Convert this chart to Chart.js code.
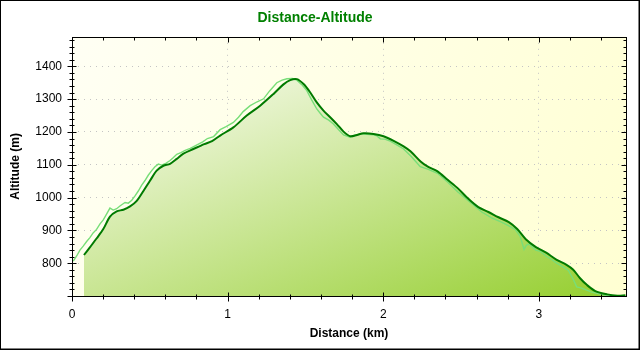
<!DOCTYPE html>
<html>
<head>
<meta charset="utf-8">
<script src="https://cdn.jsdelivr.net/npm/chart.js@4.4.1/dist/chart.umd.min.js"></script>
<style>
  html, body { margin: 0; padding: 0; background: #fff; }
  #wrap { width: 640px; height: 350px; }
</style>
</head>
<body>
<div id="wrap"><canvas id="profileChart" width="640" height="350"></canvas></div>
<script>
// smoothed track (dark line + fill)
const distKm = [
  0.077, 0.116, 0.159, 0.201, 0.244, 0.287, 0.330, 0.373, 0.416, 0.459,
  0.502, 0.544, 0.587, 0.630, 0.673, 0.716, 0.780, 0.850, 0.900, 0.952,
  1.037, 1.123, 1.209, 1.295, 1.359, 1.402, 1.445, 1.488, 1.530, 1.573,
  1.616, 1.659, 1.702, 1.745, 1.788, 1.831, 1.873, 1.938, 2.002, 2.067,
  2.131, 2.175, 2.240, 2.284, 2.349, 2.414, 2.480, 2.545, 2.611, 2.676,
  2.741, 2.807, 2.861, 2.916, 2.981, 3.047, 3.112, 3.178, 3.221, 3.265,
  3.308, 3.363, 3.439, 3.505, 3.556
];
const altitude = [
  825, 849, 876, 904, 942, 958, 963, 973, 990, 1020,
  1052, 1082, 1097, 1103, 1118, 1134, 1148, 1163, 1172, 1189,
  1214, 1250, 1280, 1316, 1345, 1358, 1361, 1346, 1321, 1290,
  1265, 1245, 1224, 1201, 1187, 1191, 1196, 1194, 1187, 1173,
  1156, 1141, 1110, 1095, 1080, 1054, 1028, 997, 971, 956,
  940, 925, 904, 873, 849, 832, 811, 795, 780, 754,
  734, 715, 705, 701, 702
];

// raw gps altitude (light line)
const rawDistKm = [
  0.008, 0.030, 0.051, 0.072, 0.094, 0.115, 0.137, 0.158, 0.180, 0.201,
  0.223, 0.244, 0.265, 0.287, 0.310, 0.341, 0.362, 0.384, 0.405, 0.426,
  0.448, 0.469, 0.490, 0.512, 0.533, 0.555, 0.576, 0.598, 0.630, 0.652,
  0.673, 0.700, 0.727, 0.760, 0.800, 0.840, 0.870, 0.910, 0.952, 0.990,
  1.037, 1.070, 1.100, 1.145, 1.190, 1.231, 1.270, 1.316, 1.350, 1.381,
  1.415, 1.445, 1.475, 1.509, 1.540, 1.573, 1.595, 1.616, 1.650, 1.680,
  1.715, 1.745, 1.788, 1.820, 1.852, 1.895, 1.938, 1.960, 1.981, 2.010,
  2.045, 2.090, 2.131, 2.180, 2.238, 2.290, 2.349, 2.415, 2.480, 2.560,
  2.633, 2.700, 2.760, 2.807, 2.850, 2.880, 2.905, 2.920, 2.938, 2.980,
  3.010, 3.047, 3.080, 3.112, 3.150, 3.190, 3.220, 3.243, 3.270, 3.308,
  3.340, 3.373, 3.420, 3.461, 3.510, 3.556
];
const rawAltitude = [
  806, 822, 840, 852, 866, 878, 893, 903, 920, 932,
  950, 968, 962, 966, 975, 985, 983, 992, 1005, 1020,
  1038, 1052, 1068, 1082, 1094, 1102, 1099, 1103, 1113, 1122,
  1132, 1137, 1144, 1150, 1160, 1170, 1180, 1186, 1207, 1216,
  1229, 1245, 1262, 1280, 1292, 1301, 1325, 1350, 1358, 1362,
  1363, 1358, 1345, 1326, 1298, 1270, 1257, 1245, 1236, 1224,
  1206, 1191, 1184, 1190, 1194, 1193, 1191, 1188, 1179, 1178,
  1172, 1160, 1148, 1125, 1094, 1086, 1074, 1047, 1017, 985,
  956, 937, 925, 914, 902, 882, 842, 855, 858, 840,
  836, 821, 812, 801, 790, 778, 752, 728, 725, 718,
  712, 708, 703, 700, 701, 700
];

const xMin = 0, xMax = 3.56;
const yMin = 700, yMax = 1490;

const FONT = "'Liberation Sans', Arial, sans-serif";

function isMajor(v, step) {
  const r = v / step;
  return Math.abs(r - Math.round(r)) < 1e-6;
}

function fillGradient(context) {
  const chart = context.chart;
  const area = chart.chartArea;
  if (!area) return "#c8e090";
  const xs = chart.scales.x, ys = chart.scales.y;
  const x0 = xs.getPixelForValue(distKm[0]);
  const y0 = ys.getPixelForValue(Math.max(...altitude));
  const w = area.right - x0;
  const h = area.bottom - y0;
  // t = (u + v) / 2 over the filled box
  const dx = 1 / (2 * w), dy = 1 / (2 * h);
  const len2 = dx * dx + dy * dy;
  const g = chart.ctx.createLinearGradient(x0, y0, x0 + dx / len2, y0 + dy / len2);
  g.addColorStop(0, "#fdfdf8");
  g.addColorStop(1, "#94ce2d");
  return g;
}

// background, outer frame and tick marks
const framePlugin = {
  id: "frame",
  beforeDraw(chart) {
    const { ctx, chartArea: a } = chart;
    ctx.save();
    ctx.fillStyle = "#ffffff";
    ctx.fillRect(0, 0, chart.width, chart.height);
    const g = ctx.createLinearGradient(a.left, a.top, a.right, a.bottom);
    g.addColorStop(0, "#fffff4");
    g.addColorStop(1, "#ffffd2");
    ctx.fillStyle = g;
    ctx.fillRect(a.left, a.top, a.right - a.left, a.bottom - a.top);
    ctx.restore();
  },
  afterDraw(chart) {
    const { ctx, chartArea: a } = chart;
    const xs = chart.scales.x, ys = chart.scales.y;
    ctx.save();
    ctx.strokeStyle = "#000";
    ctx.lineWidth = 1;
    const L = Math.round(a.left) + 0.5, R = Math.round(a.right) + 0.5;
    const T = Math.round(a.top) + 0.5, B = Math.round(a.bottom) + 0.5;
    ctx.strokeRect(L, T, R - L, B - T);

    ctx.beginPath();
    ys.ticks.forEach((t) => {
      const y = Math.round(ys.getPixelForValue(t.value)) + 0.5;
      const big = isMajor(t.value, 100);
      ctx.moveTo(L - (big ? 5 : 3), y);
      ctx.lineTo(L + (big ? 4 : 2), y);
      ctx.moveTo(R - (big ? 5 : 3), y);
      ctx.lineTo(R, y);
    });
    xs.ticks.forEach((t) => {
      const x = Math.round(xs.getPixelForValue(t.value)) + 0.5;
      const big = isMajor(t.value, 1);
      ctx.moveTo(x, B - (big ? 4 : 2));
      ctx.lineTo(x, B + (big ? 5 : 3));
      ctx.moveTo(x, T);
      ctx.lineTo(x, T + (big ? 5 : 3));
    });
    ctx.stroke();

    // outer border of the picture
    ctx.strokeRect(0.5, 0.5, chart.width - 1.5, chart.height - 1.5);
    ctx.beginPath();
    ctx.moveTo(chart.width - 0.5, 0);
    ctx.lineTo(chart.width - 0.5, chart.height);
    ctx.moveTo(0, chart.height - 0.5);
    ctx.lineTo(chart.width, chart.height - 0.5);
    ctx.stroke();
    ctx.restore();
  },
};

const ctx = document.getElementById("profileChart").getContext("2d");
new Chart(ctx, {
  type: "line",
  data: {
    datasets: [
      {
        label: "Altitude",
        data: distKm.map((d, i) => ({ x: d, y: altitude[i] })),
        borderColor: "#007a00",
        borderWidth: 2,
        backgroundColor: fillGradient,
        fill: "start",
        pointRadius: 0,
        tension: 0.3,
      },
      {
        label: "Raw altitude",
        data: rawDistKm.map((d, i) => ({ x: d, y: rawAltitude[i] })),
        borderColor: "#78de78",
        borderWidth: 1.4,
        fill: false,
        pointRadius: 0,
        tension: 0,
      },
    ],
  },
  options: {
    responsive: false,
    animation: false,
    layout: { padding: { left: 4, right: 14, top: 0, bottom: 2 } },
    plugins: {
      legend: { display: false },
      tooltip: { enabled: false },
      filler: { drawTime: "beforeDatasetsDraw" },
      title: {
        display: true,
        text: "Distance-Altitude",
        color: "#008000",
        font: { family: FONT, size: 14, weight: "bold" },
        padding: { top: 10, bottom: 10 },
      },
    },
    scales: {
      x: {
        type: "linear",
        min: xMin,
        max: xMax,
        afterFit: (s) => { s.height = 52; },
        ticks: {
          stepSize: 0.2,
          includeBounds: false,
          autoSkip: false,
          maxRotation: 0,
          padding: 11,
          color: "#000",
          font: { family: FONT, size: 12 },
          callback: (v) => (isMajor(v, 1) ? String(Math.round(v)) : ""),
        },
        grid: {
          drawTicks: false,
          color: (c) => (c.tick && isMajor(c.tick.value, 1) && c.tick.value > 0 ? "#c4c4c4" : "rgba(0,0,0,0)"),
        },
        border: { display: false, dash: [1, 5] },
        title: {
          display: true,
          text: "Distance (km)",
          color: "#000",
          font: { family: FONT, size: 12, weight: "bold" },
          padding: { top: 0, bottom: 7 },
        },
      },
      y: {
        min: yMin,
        max: yMax,
        afterFit: (s) => { s.width = 68; },
        ticks: {
          stepSize: 20,
          includeBounds: false,
          autoSkip: false,
          padding: 10,
          color: "#000",
          font: { family: FONT, size: 12 },
          callback: (v) => (isMajor(v, 100) && v > yMin ? String(v) : ""),
        },
        grid: {
          drawTicks: false,
          color: (c) => (c.tick && isMajor(c.tick.value, 100) && c.tick.value > yMin ? "#c4c4c4" : "rgba(0,0,0,0)"),
        },
        border: { display: false, dash: [1, 5] },
        title: {
          display: true,
          text: "Altitude (m)",
          color: "#000",
          font: { family: FONT, size: 12, weight: "bold" },
          padding: { top: 4, bottom: 0 },
        },
      },
    },
  },
  plugins: [framePlugin],
});
</script>
</body>
</html>
